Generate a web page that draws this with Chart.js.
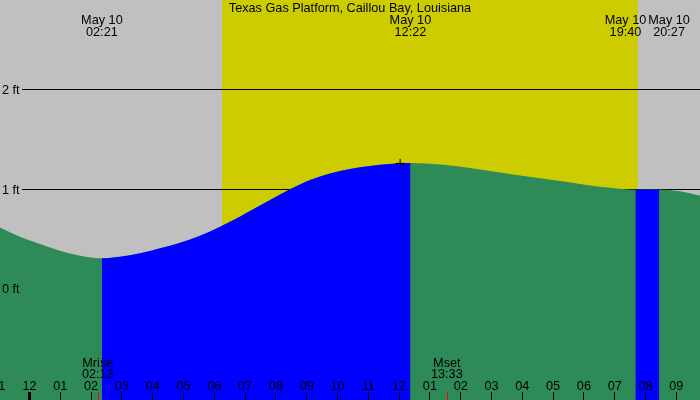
<!DOCTYPE html>
<html>
<head>
<meta charset="utf-8">
<script src="https://cdn.jsdelivr.net/npm/chart.js@4.4.1/dist/chart.umd.min.js"></script>
<style>
  html, body { margin:0; padding:0; background:#c0c0c0; }
  #wrap { width:700px; height:400px; }
</style>
</head>
<body>
<div id="wrap"><canvas id="tide" width="700" height="400"></canvas></div>
<script>
// tide curve: hours after midnight May 10, height in ft
const STATION = 'Texas Gas Platform, Caillou Bay, Louisiana';
const tideHours = [-1.0, -0.31, 0.34, 0.99, 1.64, 2.35, 2.94, 3.59, 4.24, 4.89, 5.54, 6.19, 6.83, 7.16, 7.81,
                   8.46, 9.11, 9.76, 10.41, 11.06, 11.70, 12.37, 13.33, 14.30, 15.28, 16.58, 17.88, 18.52,
                   19.17, 19.67, 20.45, 21.12, 21.80];
const tideFeet  = [0.62, 0.523, 0.449, 0.382, 0.332, 0.306, 0.322, 0.356, 0.406, 0.462, 0.533, 0.623, 0.723, 0.78, 0.891,
                   0.998, 1.091, 1.158, 1.202, 1.232, 1.252, 1.262, 1.248, 1.212, 1.168, 1.108, 1.051, 1.024,
                   1.004, 0.994, 0.996, 0.98, 0.934];

// high / low events shown at the top
const eventDates = ['May 10', 'May 10', 'May 10', 'May 10'];
const eventTimes = ['02:21', '12:22', '19:40', '20:27'];
// rising tide spans (drawn blue)
const risingFrom = ['02:21', '19:40'];
const risingTo   = ['12:22', '20:27'];

const sunrise = '06:15';
const sunset  = '19:45';

const moonLabels = ['Mrise', 'Mset'];
const moonTimes  = ['02:13', '13:33'];

const markTime = '12:02';
const markFeet = 1.258;

const levelFeet   = [0, 1, 2];
const levelLabels = ['0 ft', '1 ft', '2 ft'];

const tickFirstHour = -1;
const tickLabels = ['11', '12', '01', '02', '03', '04', '05', '06', '07', '08', '09', '10', '11',
                    '12', '01', '02', '03', '04', '05', '06', '07', '08', '09'];

const GRAY = '#c0c0c0', YELLOW = '#cccc00', GREEN = '#2e8b57', BLUE = '#0000ff', NONE = 'rgba(0,0,0,0)';
const FONT = '12.7px "Liberation Sans", Arial, sans-serif';

const hm = t => { const [h, m] = t.split(':').map(Number); return h + m / 60; };
const PX_PER_HOUR = 30.8;
const X_MIN = -29.5 / PX_PER_HOUR, X_MAX = X_MIN + 700 / PX_PER_HOUR;
const Y_MIN = -1.115, Y_MAX = 2.897;

function isRising(a, b) {
  const mid = (a + b) / 2;
  return risingFrom.some((t, i) => mid > hm(t) && mid < hm(risingTo[i]));
}

const backdrop = {
  id: 'backdrop',
  beforeDraw(chart) {
    const {ctx, chartArea: a, scales: {x}} = chart;
    ctx.save();
    ctx.fillStyle = GRAY;
    ctx.fillRect(0, 0, chart.width, chart.height);
    const x0 = x.getPixelForValue(hm(sunrise)), x1 = x.getPixelForValue(hm(sunset));
    ctx.fillStyle = YELLOW;
    ctx.fillRect(x0, a.top, x1 - x0, a.bottom - a.top);
    ctx.restore();
  },
  beforeDatasetsDraw(chart) {
    const {ctx, chartArea: a, scales: {y}} = chart;
    ctx.save();
    ctx.strokeStyle = '#000';
    ctx.lineWidth = 1;
    levelFeet.forEach(v => {
      const py = Math.round(y.getPixelForValue(v)) + 0.5;
      ctx.beginPath(); ctx.moveTo(22, py); ctx.lineTo(a.right, py); ctx.stroke();
    });
    ctx.restore();
  }
};

const overlay = {
  id: 'overlay',
  afterDatasetsDraw(chart) {
    const {ctx, chartArea: a, scales: {x, y}} = chart;
    ctx.save();
    ctx.font = FONT;
    ctx.fillStyle = '#000';

    // level labels
    ctx.textAlign = 'left'; ctx.textBaseline = 'middle';
    levelFeet.forEach((v, i) => ctx.fillText(levelLabels[i], 2, y.getPixelForValue(v) + 1));

    // hour ticks + labels
    ctx.textAlign = 'center'; ctx.textBaseline = 'alphabetic';
    tickLabels.forEach((lab, i) => {
      const h = tickFirstHour + i;
      const px = x.getPixelForValue(h);
      const thick = ((h % 24) + 24) % 24 === 0;
      ctx.fillStyle = '#000';
      ctx.fillRect(Math.floor(px) - (thick ? 1 : 0), a.bottom - 8, thick ? 3 : 1, 8);
      ctx.fillText(lab, px, a.bottom - 10);
    });

    // moon rise / set
    moonTimes.forEach((t, i) => {
      const px = x.getPixelForValue(hm(t));
      ctx.fillStyle = '#ff0000';
      ctx.fillRect(Math.round(px), a.bottom - 8, 1, 8);
      ctx.fillStyle = '#000';
      ctx.fillText(moonLabels[i], px, a.bottom - 33.5);
      ctx.fillText(t, px, a.bottom - 22);
    });

    // event labels, pushed apart when they collide
    const w = Math.max(...eventDates.map(d => ctx.measureText(d).width));
    const cx = eventTimes.map(t => x.getPixelForValue(hm(t)));
    for (let i = 1; i < cx.length; i++) {
      const gap = cx[i] - cx[i - 1];
      if (gap < w + 2) { const d = (w + 2 - gap) / 2; cx[i - 1] -= d; cx[i] += d; }
    }
    eventTimes.forEach((t, i) => {
      ctx.fillText(eventDates[i], cx[i], a.top + 24);
      ctx.fillText(t, cx[i], a.top + 36);
    });

    // title
    ctx.fillText(STATION, (a.left + a.right) / 2, a.top + 12);
    ctx.restore();
  }
};

const points = tideHours.map((h, i) => ({x: h, y: tideFeet[i]}));

new Chart(document.getElementById('tide'), {
  type: 'line',
  data: {
    datasets: [
      {
        // whole curve, green
        data: points,
        backgroundColor: GREEN,
        borderWidth: 0,
        pointRadius: 0,
        fill: 'start',
        cubicInterpolationMode: 'monotone',
        order: 3
      },
      {
        // same curve, only the rising spans coloured blue
        data: points,
        backgroundColor: NONE,
        borderWidth: 0,
        pointRadius: 0,
        fill: 'start',
        cubicInterpolationMode: 'monotone',
        segment: { backgroundColor: c => isRising(c.p0.parsed.x, c.p1.parsed.x) ? BLUE : NONE },
        order: 2
      },
      {
        type: 'scatter',
        data: [{x: hm(markTime), y: markFeet}],
        pointStyle: 'cross',
        pointRadius: 4.5,
        borderColor: '#000',
        borderWidth: 1,
        order: 1
      }
    ]
  },
  options: {
    responsive: false,
    animation: false,
    devicePixelRatio: 1,
    events: [],
    layout: { padding: 0, autoPadding: false },
    plugins: { legend: { display: false }, tooltip: { enabled: false } },
    scales: {
      x: { type: 'linear', min: X_MIN, max: X_MAX, display: false },
      y: { min: Y_MIN, max: Y_MAX, display: false }
    }
  },
  plugins: [backdrop, overlay]
});
</script>
</body>
</html>
